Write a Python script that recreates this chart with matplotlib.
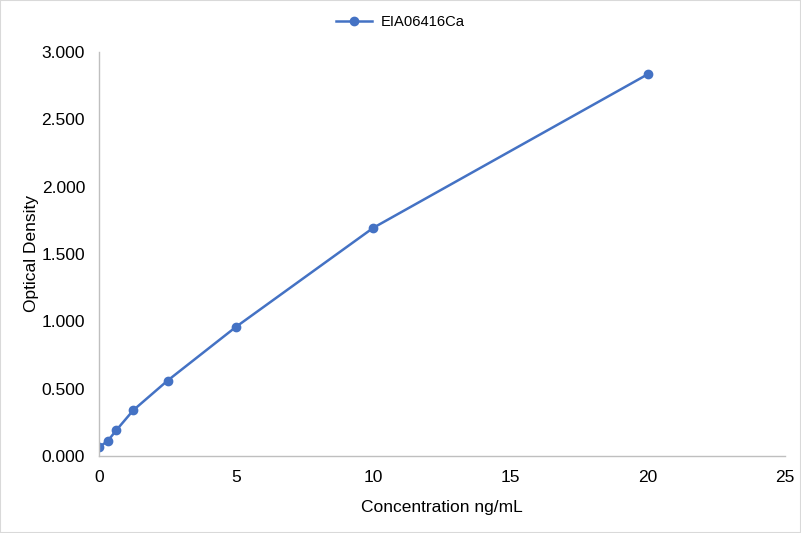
import matplotlib
matplotlib.use("Agg")
import matplotlib.pyplot as plt
from matplotlib.patches import Rectangle

concentration = [0, 0.312, 0.625, 1.25, 2.5, 5, 10, 20]
optical_density = [0.066, 0.110, 0.190, 0.340, 0.560, 0.960, 1.695, 2.835]
series_name = "EIA06416Ca"
x_ticks = [0, 5, 10, 15, 20, 25]
y_ticks = [0.0, 0.5, 1.0, 1.5, 2.0, 2.5, 3.0]

plt.rcParams['font.family'] = ['Liberation Sans', 'DejaVu Sans']

W, H = 801, 533
fig = plt.figure(figsize=(W / 100, H / 100), dpi=100)
ax = fig.add_axes([99 / W, (H - 456) / H, (785 - 99) / W, (456 - 52) / H])

color = '#4472C4'
ax.plot(concentration, optical_density, color=color, lw=1.8, marker='o',
        markersize=6, label=series_name)

ax.set_xlim(0, 25)
ax.set_ylim(0, 3)
ax.set_xticks(x_ticks)
ax.set_yticks(y_ticks)
ax.set_yticklabels([f"{v:.3f}" for v in y_ticks])
ax.tick_params(axis='x', length=0, labelsize=12.5, colors='#000000', pad=10)
ax.tick_params(axis='y', length=0, labelsize=12.5, colors='#000000', pad=10)
for s in ['top', 'right']:
    ax.spines[s].set_visible(False)
for s in ['left', 'bottom']:
    ax.spines[s].set_color('#BFBFBF')
    ax.spines[s].set_linewidth(1)

ax.set_xlabel("Concentration ng/mL", fontsize=12.5, labelpad=11)
ax.set_ylabel("Optical Density", fontsize=12.5, labelpad=1.5)

fig.legend(loc='upper center', bbox_to_anchor=(0.5, 1.0), frameon=False,
           fontsize=10.6, handlelength=2.4, handletextpad=0.6, borderaxespad=0.6)

fig.patches.append(Rectangle((0, 0), 1, 1, transform=fig.transFigure,
                             fill=False, edgecolor='#D9D9D9', lw=1.5))

fig.savefig("out.png", dpi=100)
